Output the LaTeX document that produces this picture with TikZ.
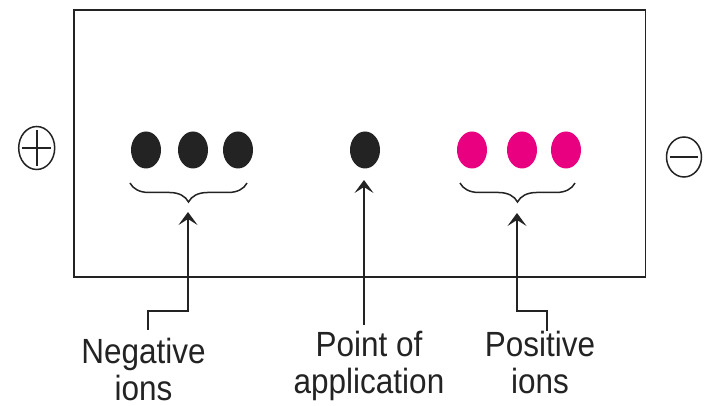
\documentclass[tikz,border=0pt]{standalone}
\usepackage{fontspec}
\newfontfamily\labfont[FakeStretch=0.9]{Liberation Sans}
\usetikzlibrary{shapes.geometric,decorations.pathreplacing,arrows.meta}
\definecolor{ink}{RGB}{35,35,35}
\definecolor{pinkion}{RGB}{232,0,128}
\tikzset{
  ion/.style={ellipse,minimum width=30pt,minimum height=37pt,inner sep=0pt},
  negion/.style={ion,fill=ink},
  posion/.style={ion,fill=pinkion},
  pole/.style={ellipse,draw=ink,line width=1.5pt,minimum width=36pt,minimum height=43pt,inner sep=0pt},
  lbl/.style={font=\labfont\fontsize{35}{37}\selectfont,text=ink,align=center,inner sep=0pt,anchor=base},
  lead/.style={draw=ink,line width=1.5pt,-{Stealth[length=13pt,width=19pt,inset=6pt]}},
  brc/.style={draw=ink,line width=1.5pt,decorate,decoration={brace,mirror,amplitude=19pt}},
}
\begin{document}
\begin{tikzpicture}[x=1pt,y=-1pt]
\useasboundingbox (0,0) rectangle (705,406);
% box
\draw[ink,line width=1.5pt] (74,10) rectangle (645.5,277);
% poles
\node[pole] (plus) at (36.7,148) {};
\draw[ink,line width=1.6pt] ([xshift=4pt]plus.west) -- ([xshift=-4pt]plus.east);
\draw[ink,line width=1.6pt] ([yshift=-4pt]plus.north) -- ([yshift=4pt]plus.south);
\node[pole,minimum width=35pt,minimum height=40pt] (minus) at (684,157) {};
\draw[ink,line width=1.6pt] ([xshift=4pt]minus.west) -- ([xshift=-4pt]minus.east);
% ions
\node[negion] (n1) at (146,150) {};
\node[negion] (n2) at (193,150) {};
\node[negion] (n3) at (238,150) {};
\node[negion] (p0) at (365,150) {};
\node[posion] (q1) at (472,150) {};
\node[posion] (q2) at (522,150) {};
\node[posion] (q3) at (566,150) {};
% braces
\coordinate (nbl) at (130,183);
\coordinate (nbr) at (247,183);
\coordinate (pbl) at (460,183);
\coordinate (pbr) at (575,183);
\draw[brc] (nbl) -- (nbr);
\draw[brc] (pbl) -- (pbr);
% labels (base = baseline of last line)
\node[lbl] (negl) at (143.5,400) {Negative\\ions};
\node[lbl] (pointl) at (369,393) {Point of\\application};
\node[lbl] (posl) at (540,393) {Positive\\ions};
% leaders
\coordinate (nstart) at (148,330);
\coordinate (ntip) at (188,212);
\coordinate (pstart) at (364,325);
\coordinate (ptip) at (364,180);
\coordinate (qstart) at (547,331);
\coordinate (qtip) at (517,213);
\draw[lead] (nstart) |- (188,311) -- (ntip);
\draw[lead] (pstart) -- (ptip);
\draw[lead] (qstart) |- (517,311) -- (qtip);
\end{tikzpicture}
\end{document}
